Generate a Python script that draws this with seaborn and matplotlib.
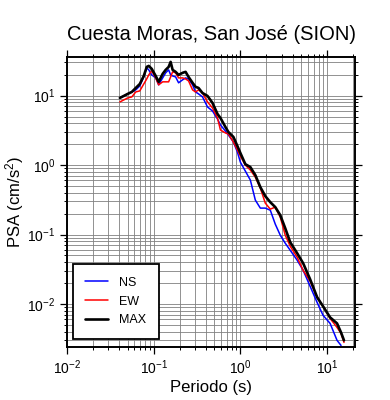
import seaborn as sns
import matplotlib.pyplot as plt
import matplotlib.ticker as mticker

# period (s) and pseudo-spectral acceleration (cm/s^2)
periods = [0.0407, 0.0452, 0.0502, 0.0559, 0.0621, 0.0691, 0.0768, 0.0831,
           0.0877, 0.0949, 0.1055, 0.1141, 0.1269, 0.1374, 0.1487, 0.1568,
           0.1653, 0.179, 0.1937, 0.2155, 0.2333, 0.2524, 0.2807, 0.3039,
           0.3289, 0.3658, 0.4176, 0.4768, 0.5444, 0.5888, 0.6724, 0.7278,
           0.8309, 0.9237, 1.0, 1.141, 1.303, 1.487, 1.698, 1.938, 2.213,
           2.526, 2.884, 3.292, 3.758, 4.52, 5.3, 6.38, 7.677, 8.995, 10.83,
           13.03, 14.48, 15.67]

psa_ns = [9.27, 9.90, 10.6, 11.3, 12.1, 13.8, 18.6, 25.1, 23.5, 19.9, 18.0,
          14.3, 18.0, 21.3, 23.5, 19.9, 19.2, 18.6, 15.3, 16.9, 18.0, 17.4,
          14.3, 11.3, 10.6, 9.58, 6.87, 6.01, 4.61, 3.78, 3.09, 2.71, 2.15,
          1.54, 1.10, 0.819, 0.608, 0.313, 0.240, 0.240, 0.224, 0.141, 0.0977,
          0.0749, 0.0593, 0.0426, 0.0305, 0.0179, 0.0105, 0.00685, 0.00525,
          0.00299, 0.00253]

psa_ew = [8.11, 8.67, 9.27, 9.58, 11.3, 11.7, 14.7, 17.4, 19.9, 22.7, 18.0,
          14.3, 15.8, 15.8, 15.8, 18.6, 22.0, 21.3, 18.0, 18.0, 17.4, 16.3,
          12.1, 11.3, 12.1, 10.9, 8.11, 6.65, 4.77, 3.20, 2.90, 2.80, 2.15,
          1.65, 1.35, 1.0, 0.847, 0.671, 0.466, 0.283, 0.232, 0.248, 0.178,
          0.0977, 0.0678, 0.0470, 0.0305, 0.0212, 0.0125, 0.00923, 0.00619,
          0.00459, 0.00377, 0.00279]

psa_max = [9.27, 9.90, 10.6, 11.3, 12.9, 14.7, 19.2, 25.9, 26.8, 24.3, 19.2,
           15.8, 20.6, 23.5, 25.9, 30.6, 23.5, 22.0, 19.9, 21.3, 22.0, 18.6,
           15.3, 13.4, 12.9, 10.9, 9.90, 7.85, 5.44, 4.77, 3.53, 2.99, 2.54,
           1.88, 1.49, 1.03, 0.936, 0.717, 0.482, 0.357, 0.292, 0.248, 0.190,
           0.123, 0.0774, 0.0537, 0.0385, 0.0226, 0.0125, 0.00923, 0.00641,
           0.00525, 0.00389, 0.00299]

components = ["NS", "EW", "MAX"]
colors = ["#0000ff", "#ff0000", "#000000"]
widths = [1.1, 1.1, 1.9]

sns.set_style("ticks")
plt.rcParams['font.family'] = ['Liberation Sans', 'DejaVu Sans']
plt.rcParams['mathtext.fontset'] = 'custom'
plt.rcParams['mathtext.rm'] = 'Liberation Sans'
plt.rcParams['mathtext.it'] = 'Liberation Sans'
plt.rcParams['text.color'] = 'black'
plt.rcParams['axes.labelcolor'] = 'black'
plt.rcParams['xtick.color'] = 'black'
plt.rcParams['ytick.color'] = 'black'

fig = plt.figure(figsize=(3.9, 4.0), dpi=100)
ax = fig.add_axes([0.1718, 0.1325, 0.7385, 0.725])

for name, values, color, lw in zip(components, [psa_ns, psa_ew, psa_max], colors, widths):
    sns.lineplot(x=periods[:len(values)], y=values, color=color, linewidth=lw,
                 label=name, ax=ax, sort=False)

ax.set_xscale("log")
ax.set_yscale("log")
ax.set_xlim(0.01, 21)
ax.set_ylim(0.0024, 36)

# GMT-like frame: ticks outside on all sides, grid at every log subdivision
ax.xaxis.set_major_locator(mticker.LogLocator(base=10, numticks=10))
ax.xaxis.set_minor_locator(mticker.LogLocator(base=10, subs=range(2, 10), numticks=20))
ax.yaxis.set_major_locator(mticker.LogLocator(base=10, numticks=10))
ax.yaxis.set_minor_locator(mticker.LogLocator(base=10, subs=range(2, 10), numticks=20))
ax.xaxis.set_minor_formatter(mticker.NullFormatter())
ax.yaxis.set_minor_formatter(mticker.NullFormatter())
ax.grid(True, which="both", color="0.5", linewidth=0.6)
ax.set_axisbelow(True)
ax.tick_params(which="both", direction="out", top=True, right=True,
               color="black", labelcolor="black", labelsize=10)
ax.tick_params(which="major", length=5, width=0.9)
ax.tick_params(which="minor", length=2.5, width=0.7)
for spine in ax.spines.values():
    spine.set_visible(True)
    spine.set_linewidth(1.4)
    spine.set_color("black")

ax.set_xlabel("Periodo (s)", fontsize=12, color="black", labelpad=2)
ax.set_ylabel("PSA (cm/s$^2$)", fontsize=12, color="black", labelpad=1)
ax.set_title("Cuesta Moras, San José (SION)", fontsize=14.5, pad=12, color="black")

leg = ax.legend(loc="lower left", bbox_to_anchor=(0.02, 0.028), fontsize=9,
                fancybox=False, framealpha=1, edgecolor="black",
                handlelength=1.8, borderpad=1.0, labelspacing=0.55,
                borderaxespad=0, handletextpad=0.9)
leg.get_frame().set_linewidth(1.3)
for text in leg.get_texts():
    text.set_color("black")

fig.savefig("out.png", dpi=100)
